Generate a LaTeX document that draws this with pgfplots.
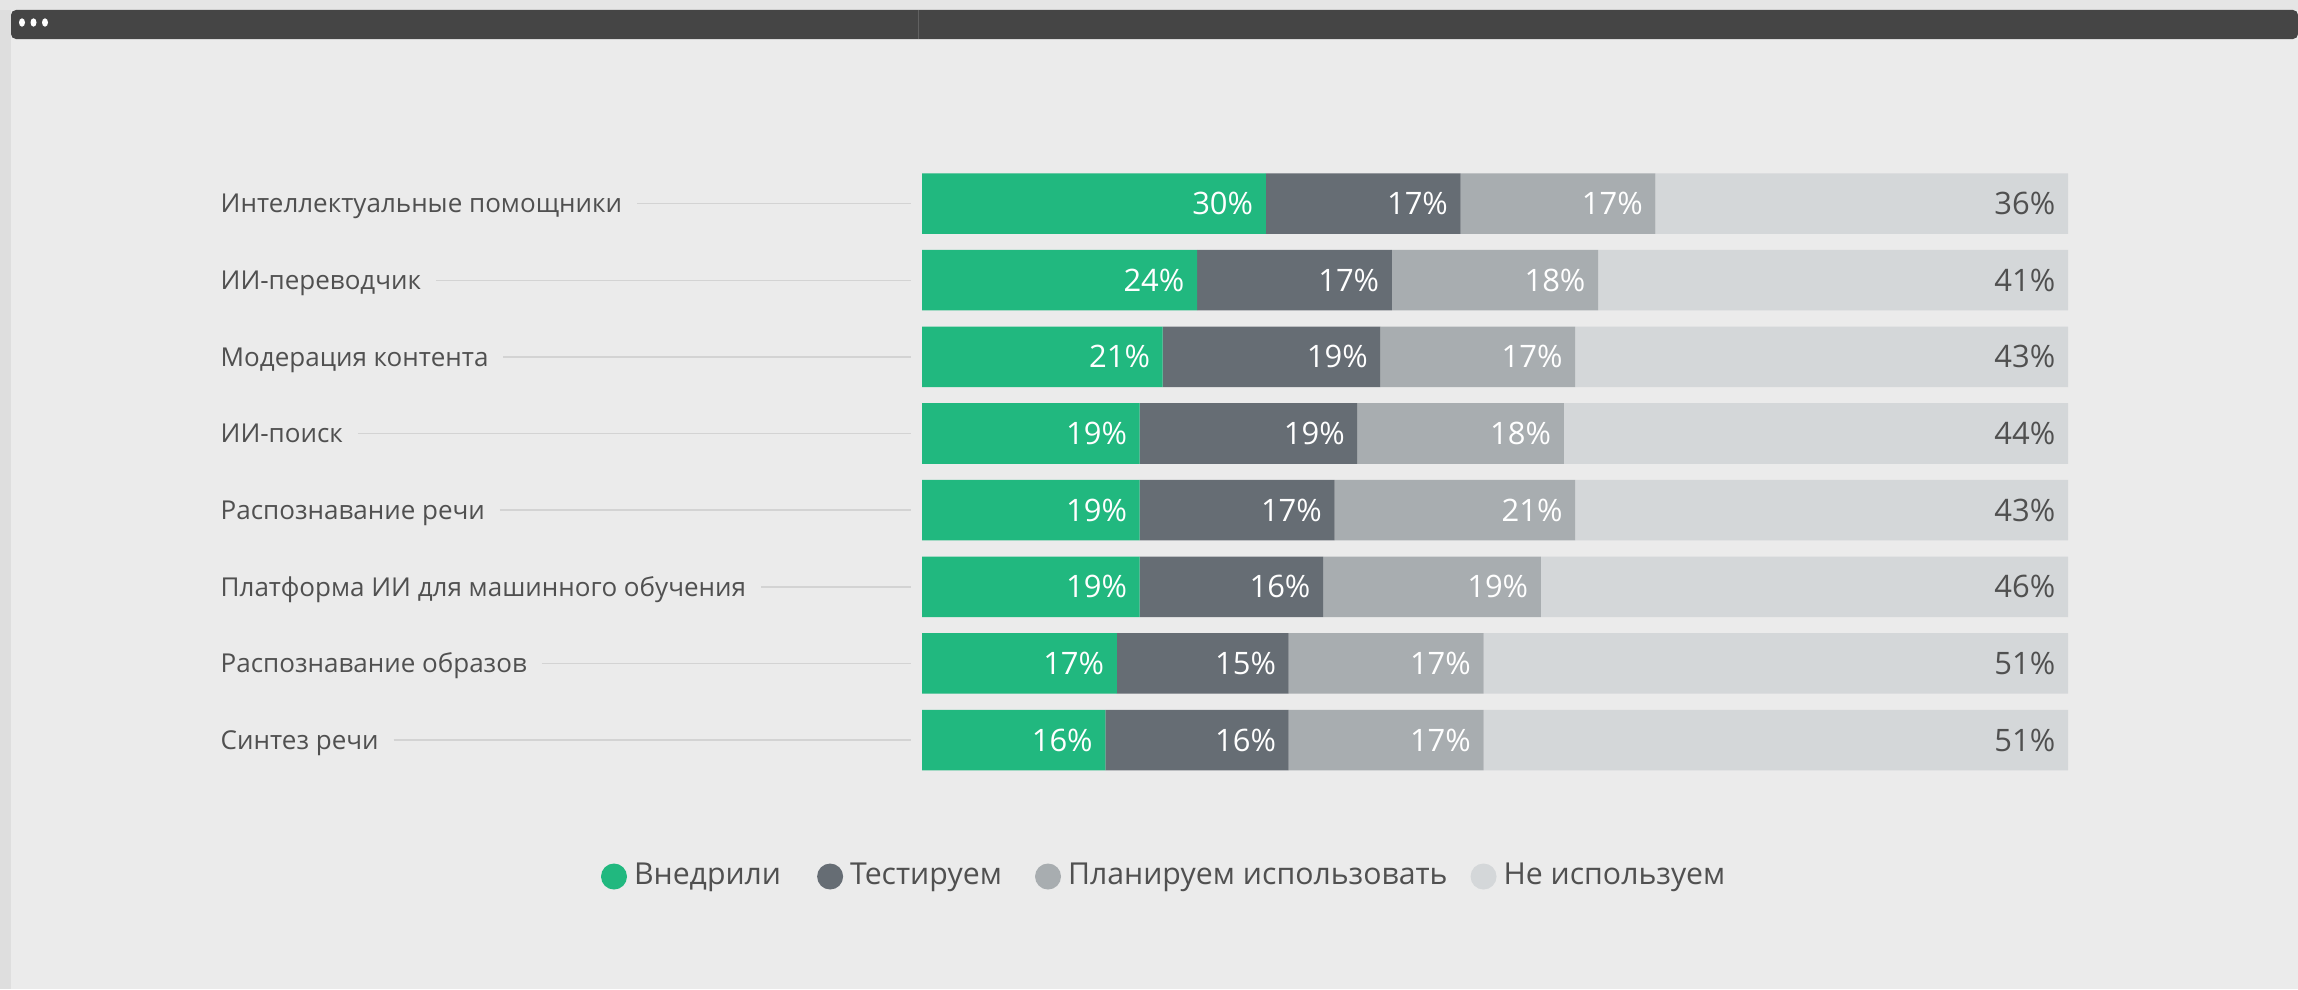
\documentclass[border=0pt]{standalone}
\usepackage{fontspec}
\setmainfont{Open Sans}
\usepackage{pgfplots}
\usepackage{pgfplotstable}
\pgfplotsset{compat=1.18}
\definecolor{cA}{HTML}{21B87F}
\definecolor{cB}{HTML}{666D74}
\definecolor{cC}{HTML}{A8ADB0}
\definecolor{cD}{HTML}{D4D7D9}
\definecolor{bg}{HTML}{EBEBEB}
\definecolor{txt}{HTML}{505050}
\definecolor{lineclr}{HTML}{D3D3D3}
\definecolor{chrome}{HTML}{454545}
\def\segw{0}
\newcommand{\lab}[1]{\hbox to 69mm{#1\hskip1.5mm{\color{lineclr}\leaders\hrule height 2.85pt depth -2.4pt\hfill}}}
% pos: 8 = top row
\pgfplotstableread{
pos a b c d
8 30 17 17 36
7 24 17 18 41
6 21 19 17 43
5 19 19 18 44
4 19 17 21 43
3 19 16 19 46
2 17 15 17 51
1 16 16 17 51
}\data
\begin{document}
\begin{tikzpicture}
\useasboundingbox (0,0) rectangle (229.8mm,98.9mm);
\fill[bg] (0,0) rectangle (229.8mm,98.9mm);
\fill[black!10] (0,97.9mm) rectangle (229.8mm,98.9mm);
\fill[black!13] (0,0) rectangle (1.1mm,97.9mm);
\fill[chrome, rounded corners=0.5mm] (1.1mm,95.0mm) -- (1.1mm,97.9mm) -- (229.8mm,97.9mm) -- (229.8mm,95.0mm) -- cycle;
\draw[black!62, line width=0.1mm] (91.8mm,95.0mm) -- (91.8mm,97.9mm);
\fill[white] (2.2mm,96.65mm) ellipse (0.3mm and 0.42mm);
\fill[white] (3.35mm,96.65mm) ellipse (0.3mm and 0.42mm);
\fill[white] (4.5mm,96.65mm) ellipse (0.3mm and 0.42mm);
\begin{axis}[
  at={(92.2mm,21.06mm)}, anchor=south west,
  scale only axis, width=114.6mm, height=61.32mm,
  xbar stacked, bar width=0.79,
  xmin=0, xmax=100, ymin=0.5, ymax=8.5,
  axis line style={draw=none}, tick style={draw=none},
  xtick=\empty,
  ytick={1,...,8},
  yticklabels={\lab{Синтез речи},\lab{Распознавание образов},\lab{Платформа ИИ для машинного обучения},\lab{Распознавание речи},\lab{ИИ-поиск},\lab{Модерация контента},\lab{ИИ-переводчик},\lab{Интеллектуальные помощники}},
  yticklabel style={anchor=west, inner sep=0pt, xshift=-70.2mm, font=\fontsize{7.4}{9}\selectfont, text=txt, text height=5.3pt, text depth=0pt},
  /pgf/number format/assume math mode=true,
  point meta=explicit,
  visualization depends on=rawx\as\segw,
  nodes near coords={\pgfmathprintnumber{\pgfplotspointmeta}\%},
  every node near coord/.append style={anchor=east, inner sep=0pt, xshift=\segw*0.573mm-1.2mm, font=\fontsize{8.8}{10}\selectfont, text=white},
  legend columns=4,
  legend style={at={(-0.2801,-0.1600)}, anchor=west, draw=none, fill=none, inner sep=0pt, outer sep=0pt,
    font=\fontsize{8.6}{10}\selectfont, text=txt,
    /tikz/column 2/.style={column sep=2.9mm},
    /tikz/column 4/.style={column sep=2.6mm},
    /tikz/column 6/.style={column sep=1.6mm}},
  legend image code/.code={\fill[#1] (1.3mm,0mm) circle[radius=1.3mm];},
  clip=false,
]
\addplot[fill=cA, draw=none] table[x=a, y=pos, meta=a]{\data};
\addplot[fill=cB, draw=none] table[x=b, y=pos, meta=b]{\data};
\addplot[fill=cC, draw=none] table[x=c, y=pos, meta=c]{\data};
\addplot[fill=cD, draw=none, every node near coord/.append style={text=txt}] table[x=d, y=pos, meta=d]{\data};
\legend{Внедрили, Тестируем, Планируем использовать, Не используем}
\end{axis}
\end{tikzpicture}
\end{document}
